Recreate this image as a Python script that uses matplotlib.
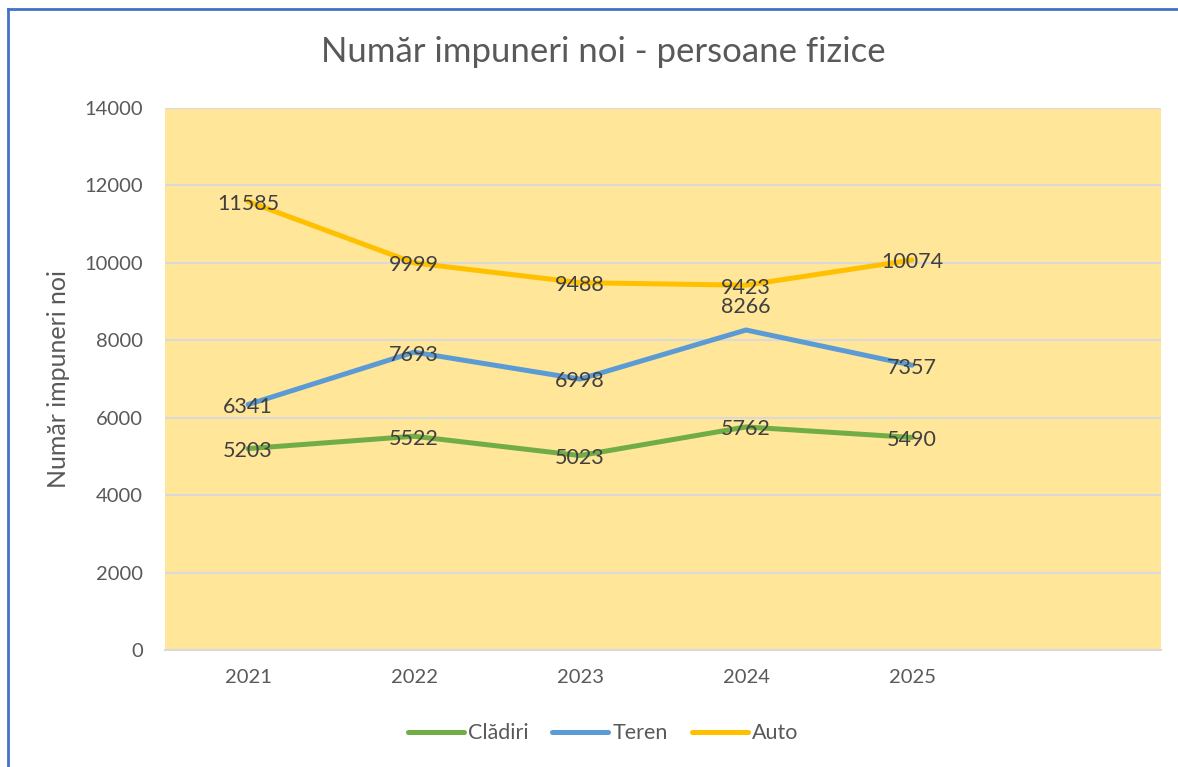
import matplotlib.pyplot as plt
from matplotlib.lines import Line2D

# Data
years = ['2021', '2022', '2023', '2024', '2025', '']
cladiri = [5203, 5522, 5023, 5762, 5490]
teren = [6341, 7693, 6998, 8266, 7357]
auto = [11585, 9999, 9488, 9423, 10074]

plt.rcParams['font.family'] = ['Lato', 'DejaVu Sans']

fig = plt.figure(figsize=(11.78, 7.67), dpi=100)
ax = fig.add_axes([0.1401, 0.1525, 0.8455, 0.7067])
ax.set_facecolor('#FFE699')

x = list(range(len(years)))
n = len(cladiri)
series = [('Clădiri', cladiri, '#70AD47'),
          ('Teren', teren, '#5B9BD5'),
          ('Auto', auto, '#FFC000')]
for name, vals, col in series:
    ax.plot(x[:n], vals, color=col, lw=3.6, label=name, solid_capstyle='round', zorder=3)
    for xi, v in zip(x[:n], vals):
        dy = -60
        if name == 'Teren' and v == max(vals):
            dy = 600
        ax.text(xi, v + dy, str(v), ha='center', va='center', fontsize=15.5,
                color='#404040', zorder=4)

ax.set_xlim(-0.5, len(years) - 0.5)
ax.set_ylim(0, 14000)
ax.set_yticks(range(0, 14001, 2000))
ax.set_xticks(x)
ax.set_xticklabels(years)
ax.tick_params(length=0, labelsize=14.5, colors='#595959')
ax.tick_params(axis='x', pad=14)
ax.tick_params(axis='y', pad=16)
ax.grid(axis='y', color='#D9D9D9', lw=1.5, zorder=1)
ax.set_axisbelow(True)
for s in ['left', 'right', 'top']:
    ax.spines[s].set_visible(False)
ax.spines['bottom'].set_color('#D9D9D9')
ax.spines['bottom'].set_linewidth(1.5)

ax.set_ylabel('Număr impuneri noi', fontsize=18, color='#595959', labelpad=10)
fig.text(0.512, 0.932, 'Număr impuneri noi - persoane fizice', ha='center', va='center',
         fontsize=25, color='#595959')

ax.legend(loc='center', bbox_to_anchor=(0.512, 0.044), bbox_transform=fig.transFigure,
          ncol=3, frameon=False, fontsize=15.5, labelcolor='#595959',
          handlelength=2.6, handletextpad=0.2, columnspacing=1.1)

# outer border (top and left edges)
fig.add_artist(Line2D([8 / 1178, 1.0], [1 - 9 / 767, 1 - 9 / 767], color='#4472C4', lw=2,
                      transform=fig.transFigure))
fig.add_artist(Line2D([8 / 1178, 8 / 1178], [0, 1 - 9 / 767], color='#4472C4', lw=2,
                      transform=fig.transFigure))

fig.savefig('out.png', dpi=100)
